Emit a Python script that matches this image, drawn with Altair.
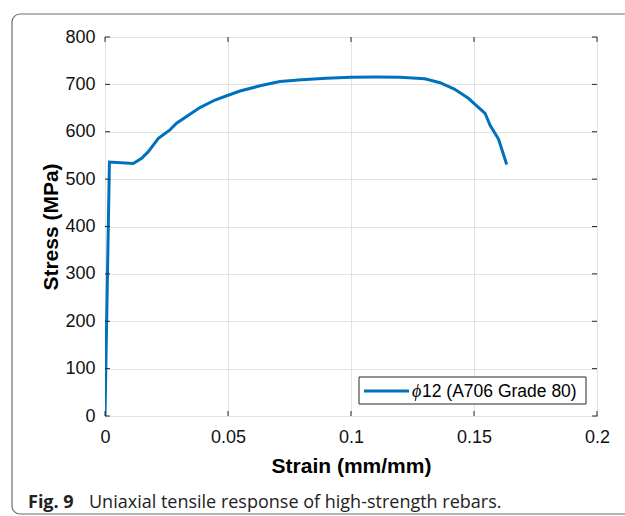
import altair as alt
import pandas as pd

strain = [0, 0.0018, 0.0115, 0.0149, 0.0176, 0.0217, 0.0264, 0.0291, 0.0339, 0.0386,
          0.0447, 0.0495, 0.0549, 0.063, 0.0711, 0.08, 0.09, 0.10, 0.11, 0.12, 0.13,
          0.1362, 0.142, 0.1477, 0.1545, 0.1565, 0.160, 0.1633]
stress = [0, 536, 533, 544, 558, 586, 604, 618, 635, 651, 667, 676, 686, 697, 706,
          710, 713, 715, 715.5, 715, 712, 703.5, 690, 670.6, 639, 614, 584, 531]
x_ticks = [0, 0.05, 0.1, 0.15, 0.2]
y_ticks = [0, 100, 200, 300, 400, 500, 600, 700, 800]
series_name = "12 (A706 Grade 80)"
caption_bold = "Fig. 9"
caption_text = "Uniaxial tensile response of high-strength rebars."

W, H = 492, 379
AXC = "#262626"
BLUE = "#0072BD"

df = pd.DataFrame({"strain": strain, "stress": stress, "i": range(len(strain))})
xs = alt.Scale(domain=[0, 0.2], nice=False)
ys = alt.Scale(domain=[0, 800], nice=False)

one = alt.Data(values=[{"k": 1}])

frame = alt.Chart(one).mark_rect(
    fillOpacity=0, stroke="#6e6e6e", strokeWidth=1.2, cornerRadius=8
).encode(x=alt.value(-93), x2=alt.value(560), y=alt.value(-23), y2=alt.value(477))

line = alt.Chart(df).mark_line(color=BLUE, strokeWidth=3, clip=True).encode(
    x=alt.X("strain:Q", scale=xs,
            axis=alt.Axis(values=x_ticks, title="Strain (mm/mm)", labelFlush=False,
                          labelExpr="datum.value == 0 ? '0' : format(datum.value, '~g')")),
    y=alt.Y("stress:Q", scale=ys,
            axis=alt.Axis(values=y_ticks, title="Stress (MPa)", labelFlush=False)),
    order="i:Q",
)

xt = pd.DataFrame({"v": x_ticks})
yt = pd.DataFrame({"v": y_ticks})
xtick_b = alt.Chart(xt).mark_rule(color=AXC, strokeWidth=1).encode(
    x=alt.X("v:Q", scale=xs), y=alt.value(H), y2=alt.value(H - 5))
xtick_t = alt.Chart(xt).mark_rule(color=AXC, strokeWidth=1).encode(
    x=alt.X("v:Q", scale=xs), y=alt.value(0), y2=alt.value(5))
ytick_l = alt.Chart(yt).mark_rule(color=AXC, strokeWidth=1).encode(
    y=alt.Y("v:Q", scale=ys), x=alt.value(0), x2=alt.value(5))
ytick_r = alt.Chart(yt).mark_rule(color=AXC, strokeWidth=1).encode(
    y=alt.Y("v:Q", scale=ys), x=alt.value(W), x2=alt.value(W - 5))

# legend
LX, LY = 254, 340
leg_box = alt.Chart(one).mark_rect(fill="white", stroke=AXC, strokeWidth=1).encode(
    x=alt.value(LX), x2=alt.value(LX + 227), y=alt.value(LY), y2=alt.value(LY + 27))
leg_line = alt.Chart(one).mark_rule(color=BLUE, strokeWidth=3).encode(
    x=alt.value(LX + 5), x2=alt.value(LX + 50), y=alt.value(LY + 14))
leg_phi = alt.Chart(one).mark_text(
    text="ϕ", font="Liberation Serif", fontStyle="italic", fontSize=18, align="left",
    baseline="middle", color="#000").encode(x=alt.value(LX + 53), y=alt.value(LY + 15))
leg_txt = alt.Chart(one).mark_text(
    text=series_name, font="Liberation Sans", fontSize=17.5, align="left",
    baseline="middle", color="#000").encode(x=alt.value(LX + 63), y=alt.value(LY + 14.5))

cap1 = alt.Chart(one).mark_text(
    text=caption_bold, font="Open Sans", fontWeight="bold", fontSize=18, align="left",
    baseline="alphabetic", color="#222").encode(x=alt.value(-77), y=alt.value(471))
cap2 = alt.Chart(one).mark_text(
    text=caption_text, font="Open Sans", fontSize=18, align="left",
    baseline="alphabetic", color="#222").encode(x=alt.value(-16), y=alt.value(471))

chart = alt.layer(
    frame, line, xtick_b, xtick_t, ytick_l, ytick_r, leg_box, leg_line, leg_phi, leg_txt,
    cap1, cap2
).properties(
    width=W, height=H,
    autosize=alt.AutoSizeParams(type="none"),
    padding={"left": 105, "top": 37, "right": 28, "bottom": 100},
).configure_view(
    stroke=AXC, strokeWidth=1
).configure_axis(
    domain=False, ticks=False, grid=True, gridColor="#e2e2e2", gridWidth=1,
    labelFont="Liberation Sans", labelFontSize=18, labelColor="#111",
    titleFont="Liberation Sans", titleFontSize=21, titleFontWeight="bold", titleColor="#000",
).configure_axisX(
    labelPadding=12, titlePadding=9
).configure_axisY(
    labelPadding=10, titlePadding=3
)

chart.save("out.html", embed_options={"renderer": "svg", "actions": False})
